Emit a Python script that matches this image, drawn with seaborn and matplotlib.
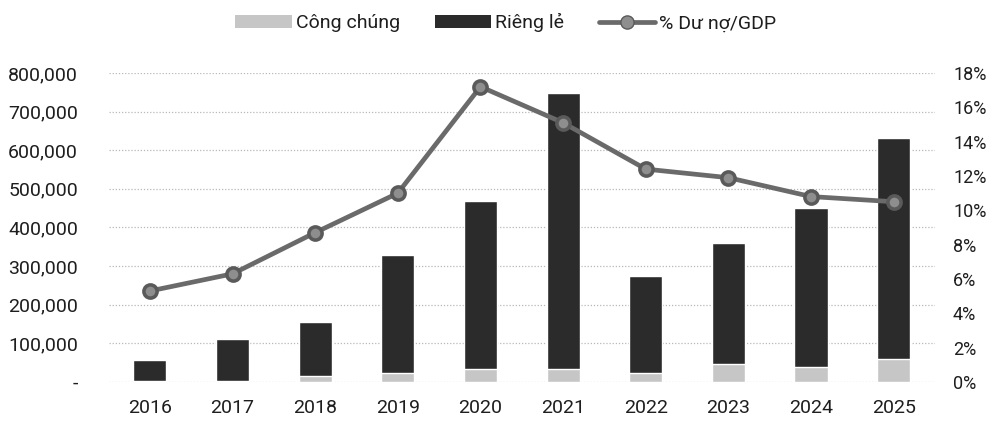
import matplotlib
matplotlib.use("Agg")
import matplotlib.pyplot as plt
import seaborn as sns
import pandas as pd
from matplotlib.patches import Patch
from matplotlib.lines import Line2D
from matplotlib.ticker import FixedLocator, FixedFormatter

# Bond issuance (billion VND) by channel and outstanding debt as % of GDP
years = ["2016", "2017", "2018", "2019", "2020", "2021", "2022", "2023", "2024", "2025"]
public = [2000, 2000, 15000, 22000, 34000, 34000, 24000, 47000, 40000, 60000]
private = [55000, 109000, 140000, 307000, 435000, 715000, 251000, 313000, 411000, 572000]
debt_gdp = [5.3, 6.3, 8.7, 11.0, 17.2, 15.1, 12.4, 11.9, 10.8, 10.5]

left_ticks = [0, 100000, 200000, 300000, 400000, 500000, 600000, 700000, 800000]
left_labels = ["-", "100,000", "200,000", "300,000", "400,000", "500,000",
               "600,000", "700,000", "800,000"]
right_ticks = [0, 2, 4, 6, 8, 10, 12, 14, 16, 18]
right_labels = [f"{t}%" for t in right_ticks]

legend_labels = ["Công chúng", "Riêng lẻ", "% Dư nợ/GDP"]

DARK = "#2b2b2b"
LIGHT = "#c6c6c6"
LINE = "#6a6a6a"
MARK = "#8e8e8e"
TEXT = "#1e1e1e"

sns.set_theme(style="white")
plt.rcParams["font.family"] = ["Roboto", "DejaVu Sans"]

df = pd.DataFrame({
    "year": years,
    "public": public,
    "total": [p + q for p, q in zip(public, private)],
    "pct": debt_gdp,
})

fig = plt.figure(figsize=(9.92, 4.23), dpi=100)
ax = fig.add_axes([0.1095, 0.097, 0.833, 0.7305])

sns.barplot(data=df, x="year", y="total", color=DARK, width=0.4,
            saturation=1, ax=ax, zorder=2)
sns.barplot(data=df, x="year", y="public", color=LIGHT, width=0.4,
            saturation=1, ax=ax, zorder=3)

ax.set_xlim(-0.5, 9.5)
ax.set_ylim(0, 800000)
ax.yaxis.set_major_locator(FixedLocator(left_ticks))
ax.yaxis.set_major_formatter(FixedFormatter(left_labels))
ax.grid(axis="y", color="#b8b8b8", linestyle=(0, (1, 1.5)), linewidth=0.9, zorder=0)
ax.set_axisbelow(True)
ax.set_xlabel("")
ax.set_ylabel("")
ax.tick_params(axis="both", length=0, labelsize=14, colors=TEXT)
ax.tick_params(axis="y", pad=22)
ax.tick_params(axis="x", pad=12)
for s in ax.spines.values():
    s.set_visible(False)

ax2 = ax.twinx()
sns.pointplot(data=df, x="year", y="pct", color=LINE, markers="o",
              linewidth=3.4, markersize=9.5, ax=ax2, zorder=4,
              markeredgecolor="#5a5a5a", markerfacecolor=MARK)
ax2.set_xlim(-0.5, 9.5)
ax2.set_ylim(0, 18)
ax2.yaxis.set_major_locator(FixedLocator(right_ticks))
ax2.yaxis.set_major_formatter(FixedFormatter(right_labels))
ax2.set_ylabel("")
ax2.set_xlabel("")
ax2.tick_params(axis="y", length=0, labelsize=13, colors=TEXT, pad=13)
ax2.grid(False)
for s in ax2.spines.values():
    s.set_visible(False)

handles = [
    Patch(facecolor=LIGHT, edgecolor="none"),
    Patch(facecolor=DARK, edgecolor="none"),
    Line2D([0], [0], color=LINE, linewidth=3.4, marker="o", markersize=9.5,
           markerfacecolor=MARK, markeredgecolor="#5a5a5a"),
]
fig.legend(handles, legend_labels, loc="upper center", bbox_to_anchor=(0.51, 1.01),
           ncol=3, frameon=False, fontsize=14, handlelength=2.9, handleheight=0.7,
           columnspacing=1.8, handletextpad=0.2, labelcolor=TEXT)

fig.savefig("out.png", dpi=100, facecolor="white")
